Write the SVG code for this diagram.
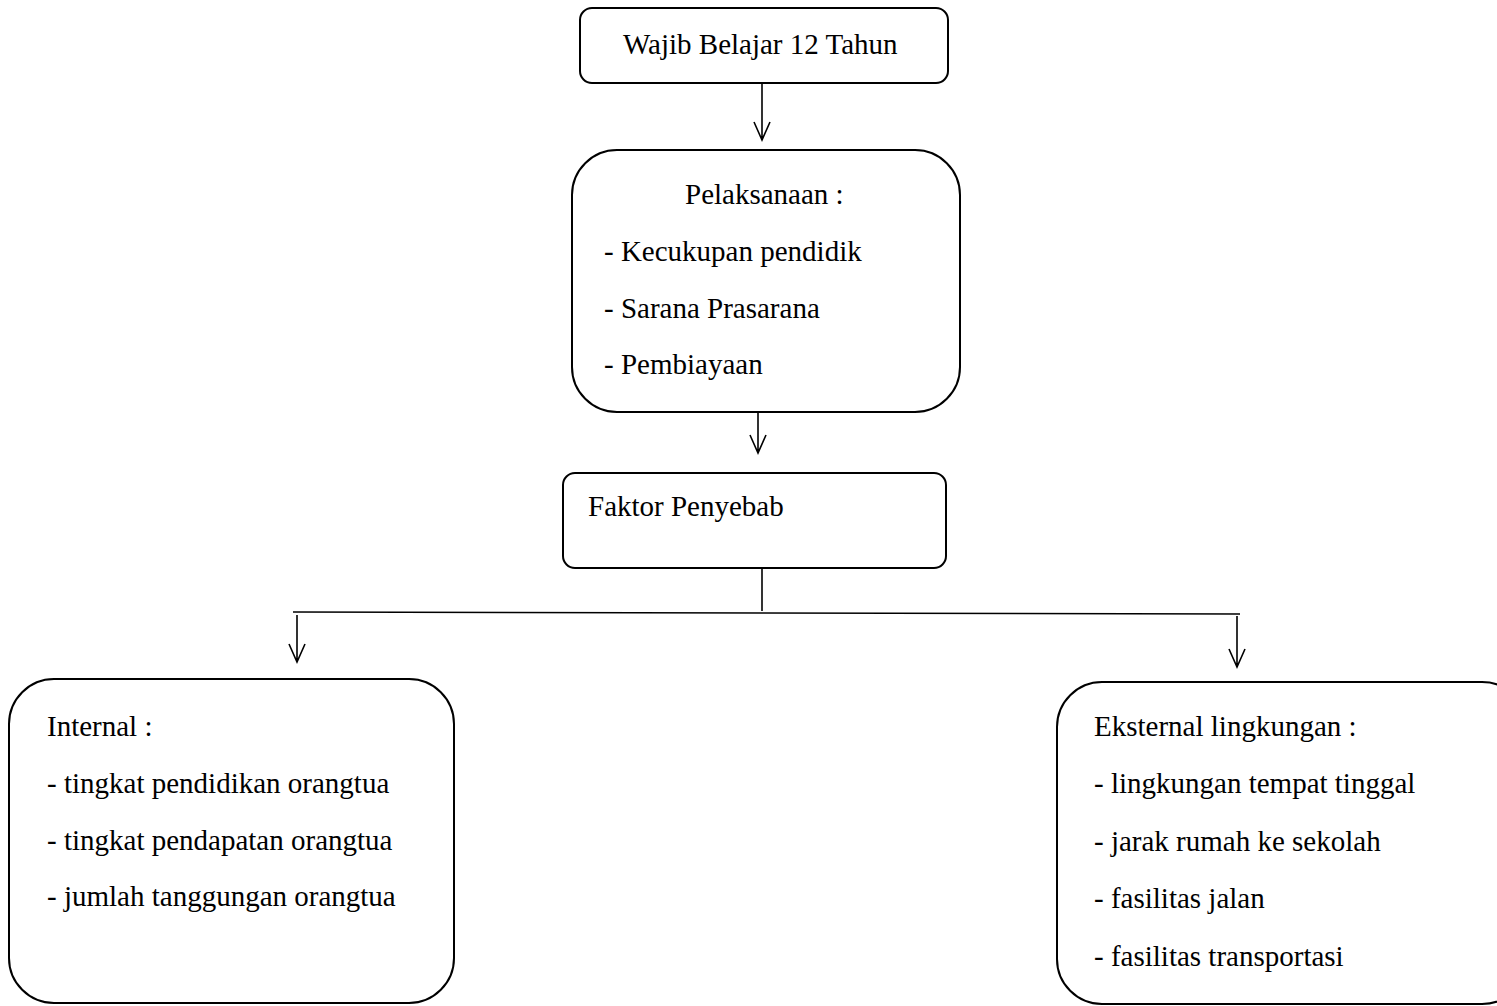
<svg xmlns="http://www.w3.org/2000/svg" width="1497" height="1006" viewBox="0 0 1497 1006">
<style>
.box{fill:#fff;stroke:#000;stroke-width:2}
.t{font-family:"Liberation Serif","Times New Roman",serif;font-size:29px;fill:#000}
.c{fill:none;stroke:#000;stroke-width:1.6}
</style>
<rect width="1497" height="1006" fill="#fff"/>
<g id="connectors">
<path class="c" d="M762 83V140M754 122L762 140L770 122"/>
<path class="c" d="M758 412V453M750 435L758 453L766 435"/>
<path class="c" d="M762 566V611"/>
<path class="c" d="M293 612L1240 614" stroke-width="2.2"/>
<path class="c" d="M297 615V662M289 644L297 662L305 644"/>
<path class="c" d="M1237 616V667M1229 649L1237 667L1245 649"/>
</g>
<g id="n1">
<rect class="box" x="580" y="8" width="368" height="75" rx="12"/>
<text class="t" x="623" y="54">Wajib Belajar 12 Tahun</text>
</g>
<g id="n2">
<rect class="box" x="572" y="150" width="388" height="262" rx="45"/>
<text class="t" x="685" y="204">Pelaksanaan :</text>
<text class="t" x="604" y="261">- Kecukupan pendidik</text>
<text class="t" x="604" y="318">- Sarana Prasarana</text>
<text class="t" x="604" y="374">- Pembiayaan</text>
</g>
<g id="n3">
<rect class="box" x="563" y="473" width="383" height="95" rx="12"/>
<text class="t" x="588" y="516">Faktor Penyebab</text>
</g>
<g id="n4">
<rect class="box" x="9" y="679" width="445" height="324" rx="45"/>
<text class="t" x="47" y="736">Internal :</text>
<text class="t" x="47" y="793">- tingkat pendidikan orangtua</text>
<text class="t" x="47" y="850">- tingkat pendapatan orangtua</text>
<text class="t" x="47" y="906">- jumlah tanggungan orangtua</text>
</g>
<g id="n5">
<rect class="box" x="1057" y="682" width="470" height="322" rx="45"/>
<text class="t" x="1094" y="736">Eksternal lingkungan :</text>
<text class="t" x="1094" y="793">- lingkungan tempat tinggal</text>
<text class="t" x="1094" y="851">- jarak rumah ke sekolah</text>
<text class="t" x="1094" y="908">- fasilitas jalan</text>
<text class="t" x="1094" y="966">- fasilitas transportasi</text>
</g>
</svg>
